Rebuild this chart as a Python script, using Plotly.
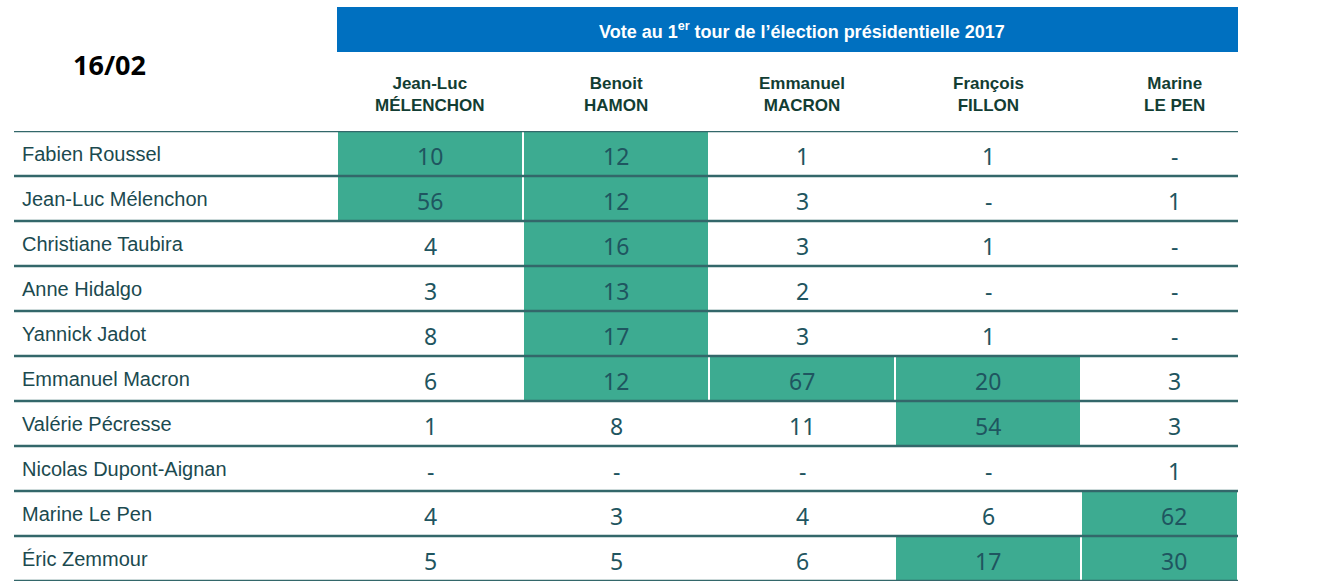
import plotly.graph_objects as go

# rows: 2022 candidates, columns: 2017 first-round vote
voters = ["Fabien Roussel", "Jean-Luc Mélenchon", "Christiane Taubira", "Anne Hidalgo",
          "Yannick Jadot", "Emmanuel Macron", "Valérie Pécresse", "Nicolas Dupont-Aignan",
          "Marine Le Pen", "Éric Zemmour"]
vote_2017 = ["Jean-Luc<br>MÉLENCHON", "Benoit<br>HAMON", "Emmanuel<br>MACRON",
             "François<br>FILLON", "Marine<br>LE PEN"]

melenchon = ["10", "56", "4", "3", "8", "6", "1", "-", "4", "5"]
hamon = ["12", "12", "16", "13", "17", "12", "8", "-", "3", "5"]
macron = ["1", "3", "3", "2", "3", "67", "11", "-", "4", "6"]
fillon = ["1", "-", "1", "-", "1", "20", "54", "-", "6", "17"]
le_pen = ["-", "1", "-", "-", "-", "3", "3", "1", "62", "30"]

# highlighted cells (1 = green)
hl_melenchon = [1, 1, 0, 0, 0, 0, 0, 0, 0, 0]
hl_hamon = [1, 1, 1, 1, 1, 1, 0, 0, 0, 0]
hl_macron = [0, 0, 0, 0, 0, 1, 0, 0, 0, 0]
hl_fillon = [0, 0, 0, 0, 0, 1, 1, 0, 0, 1]
hl_le_pen = [0, 0, 0, 0, 0, 0, 0, 0, 1, 1]

date_label = "16/02"
title = "Vote au 1<sup>er</sup> tour de l’élection présidentielle 2017"

columns = [melenchon, hamon, macron, fillon, le_pen]
highlights = [hl_melenchon, hl_hamon, hl_macron, hl_fillon, hl_le_pen]

# pixel layout
W, H = 1340, 588
left, right, top, bottom = 337, 1238, 131, 581
col_w = 186
n_cols, n_rows = len(vote_2017), len(voters)
x_max = (right - left) / col_w

def px_x(p):
    return (p - left) / (right - left)

def px_y(p):
    return (bottom - p) / (bottom - top)

GREEN = "#3dab91"
LINE = "#33676a"
NUM = "#1f5560"
NAME = "#1b4a4f"
HEAD = "#123d33"

z = [[highlights[c][r] for c in range(n_cols)] for r in range(n_rows)]
x_edges = list(range(n_cols)) + [x_max]
y_edges = list(range(n_rows + 1))

fig = go.Figure()
fig.add_trace(go.Heatmap(
    z=z, x=x_edges, y=y_edges,
    colorscale=[[0, "white"], [1, GREEN]], zmin=0, zmax=1,
    showscale=False, xgap=2, ygap=0, hoverinfo="skip"
))

# cell values
for c, col in enumerate(columns):
    for r, v in enumerate(col):
        fig.add_annotation(x=c + 0.5, xref="x", y=r + 0.5, yref="y", text=v,
                           showarrow=False, xanchor="center", yanchor="middle", yshift=-2,
                           font=dict(family="Noto Sans", size=23, color=NUM))

# row names
for r, name in enumerate(voters):
    fig.add_annotation(x=px_x(20), xref="paper", y=r + 0.5, yref="y",
                       text=name, showarrow=False, xanchor="left", yanchor="middle",
                       font=dict(family="Liberation Sans", size=20, color=NAME))

# row rules
for r in range(n_rows + 1):
    fig.add_shape(type="line", xref="paper", x0=px_x(14), x1=1, yref="y", y0=r, y1=r,
                  line=dict(color=LINE, width=2.5), layer="above")

# blue header band
fig.add_shape(type="rect", xref="paper", x0=0, x1=1, yref="paper",
              y0=px_y(52), y1=px_y(7), fillcolor="#0070c0", line_width=0)
fig.add_annotation(x=n_cols / 2, xref="x", y=px_y(30), yref="paper", text=title,
                   showarrow=False, xanchor="center", yanchor="middle",
                   font=dict(family="Liberation Sans", size=18, color="white", weight="bold"))

# column headers
for c, lab in enumerate(vote_2017):
    fig.add_annotation(x=c + 0.5, xref="x", y=px_y(94), yref="paper", text=lab,
                       showarrow=False, xanchor="center", yanchor="middle",
                       font=dict(family="Liberation Sans", size=17, color=HEAD, weight="bold"))

fig.add_annotation(x=px_x(109), xref="paper", y=px_y(65), yref="paper", text=date_label,
                   showarrow=False, xanchor="center", yanchor="middle",
                   font=dict(family="Open Sans", size=27, color="black", weight="bold"))

fig.update_xaxes(range=[0, x_max], visible=False, fixedrange=True)
fig.update_yaxes(range=[n_rows, 0], visible=False, fixedrange=True)
fig.update_layout(
    width=W, height=H,
    margin=dict(l=left, r=W - right, t=top, b=H - bottom, pad=0),
    plot_bgcolor="white", paper_bgcolor="white",
    showlegend=False,
)

fig.write_html("out.html", config={"displayModeBar": False},
               post_script="document.body.style.margin='0';document.body.style.overflow='hidden';")
